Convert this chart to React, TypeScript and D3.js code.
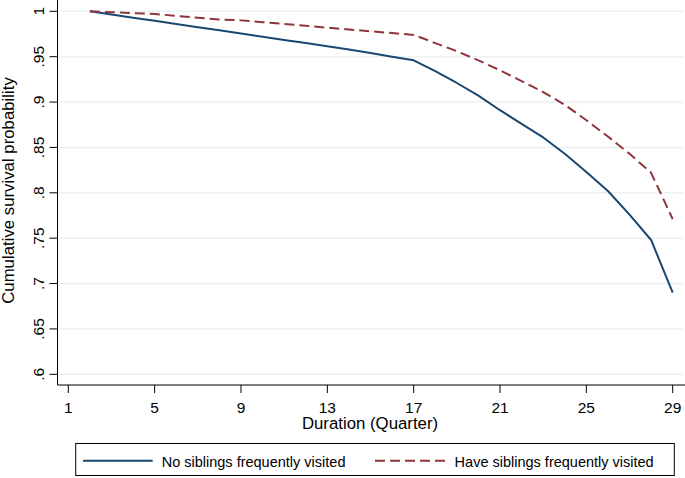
import React from "react";
import * as d3 from "d3";

const quarters = [2, 3, 4, 5, 6, 7, 8, 9, 10, 11, 12, 13, 14, 15, 16, 17, 18, 19, 20, 21, 22, 23, 24, 25, 26, 27, 28, 29];
const noSiblings = [1.0, 0.9965, 0.993, 0.9895, 0.986, 0.9825, 0.979, 0.9755, 0.972, 0.9685, 0.965, 0.9615, 0.958, 0.954, 0.950, 0.946, 0.934, 0.921, 0.907, 0.891, 0.876, 0.861, 0.843, 0.823, 0.802, 0.776, 0.748, 0.690];
const haveSiblings = [1.0, 0.999, 0.998, 0.997, 0.995, 0.993, 0.991, 0.990, 0.988, 0.986, 0.984, 0.982, 0.980, 0.978, 0.976, 0.974, 0.965, 0.956, 0.946, 0.935, 0.923, 0.911, 0.897, 0.880, 0.862, 0.843, 0.822, 0.771];
const xTicks = [1, 5, 9, 13, 17, 21, 25, 29];
const yTicks = [0.6, 0.65, 0.7, 0.75, 0.8, 0.85, 0.9, 0.95, 1];
const seriesLabels = ["No siblings frequently visited", "Have siblings frequently visited"];
const xTitle = "Duration (Quarter)";
const yTitle = "Cumulative survival probability";

const W = 685;
const H = 478;
const FONT = "'Liberation Sans', Arial, Helvetica, sans-serif";
const BLUE = "#1a476f";
const RED = "#90353b";

export default function App() {
  const x = d3.scaleLinear().domain([1, 29]).range([68.3, 672.7]);
  const y = d3.scaleLinear().domain([0.6, 1]).range([374.3, 11.3]);
  const axisX = 57.5;
  const axisY = 385;

  const line = d3
    .line<number>()
    .x((_, i) => x(quarters[i]))
    .y((d) => y(d));

  const fmt = (v: number) => (v === 1 ? "1" : String(v).replace(/^0/, ""));

  return (
    <svg
      width={W}
      height={H}
      style={{ position: "absolute", left: 0, top: 0, background: "#fff" }}
      fontFamily={FONT}
    >
      <rect x={0} y={0} width={W} height={H} fill="#fff" />
      {yTicks.map((t) => (
        <line key={"g" + t} x1={axisX + 1} x2={683} y1={y(t)} y2={y(t)} stroke="#eaf2f3" strokeWidth={1.5} />
      ))}
      <path d={line(noSiblings) || ""} fill="none" stroke={BLUE} strokeWidth={2} strokeLinejoin="round" />
      <path d={line(haveSiblings) || ""} fill="none" stroke={RED} strokeWidth={2} strokeDasharray="10,5" strokeLinejoin="round" />
      {/* axes */}
      <line x1={axisX} x2={axisX} y1={0} y2={axisY} stroke="#000" strokeWidth={1} />
      <line x1={axisX} x2={685} y1={axisY} y2={axisY} stroke="#000" strokeWidth={1} />
      {yTicks.map((t) => (
        <g key={"y" + t}>
          <line x1={axisX - 8} x2={axisX} y1={y(t)} y2={y(t)} stroke="#000" strokeWidth={1} />
          <text
            transform={`translate(43.5,${y(t)}) rotate(-90)`}
            textAnchor="middle"
            fontSize={15.5}
            fill="#000"
          >
            {fmt(t)}
          </text>
        </g>
      ))}
      {xTicks.map((t) => (
        <g key={"x" + t}>
          <line x1={x(t)} x2={x(t)} y1={axisY} y2={axisY + 8} stroke="#000" strokeWidth={1} />
          <text x={x(t)} y={412.5} textAnchor="middle" fontSize={15.5} fill="#000">
            {t}
          </text>
        </g>
      ))}
      <text x={370} y={429} textAnchor="middle" fontSize={16.8} fill="#000">
        {xTitle}
      </text>
      <text transform={`translate(13.5,190.5) rotate(-90)`} textAnchor="middle" fontSize={16.8} fill="#000">
        {yTitle}
      </text>
      {/* legend */}
      <rect x={75.7} y={443.5} width={598.6} height={32} fill="#fff" stroke="#000" strokeWidth={1} />
      <line x1={83} x2={152.7} y1={460.7} y2={460.7} stroke={BLUE} strokeWidth={2} />
      <text x={161.7} y={466.5} fontSize={14.5} fill="#000">
        {seriesLabels[0]}
      </text>
      <line x1={375} x2={445} y1={460.7} y2={460.7} stroke={RED} strokeWidth={2} strokeDasharray="10,5" />
      <text x={454.6} y={466.5} fontSize={14.5} fill="#000">
        {seriesLabels[1]}
      </text>
    </svg>
  );
}
